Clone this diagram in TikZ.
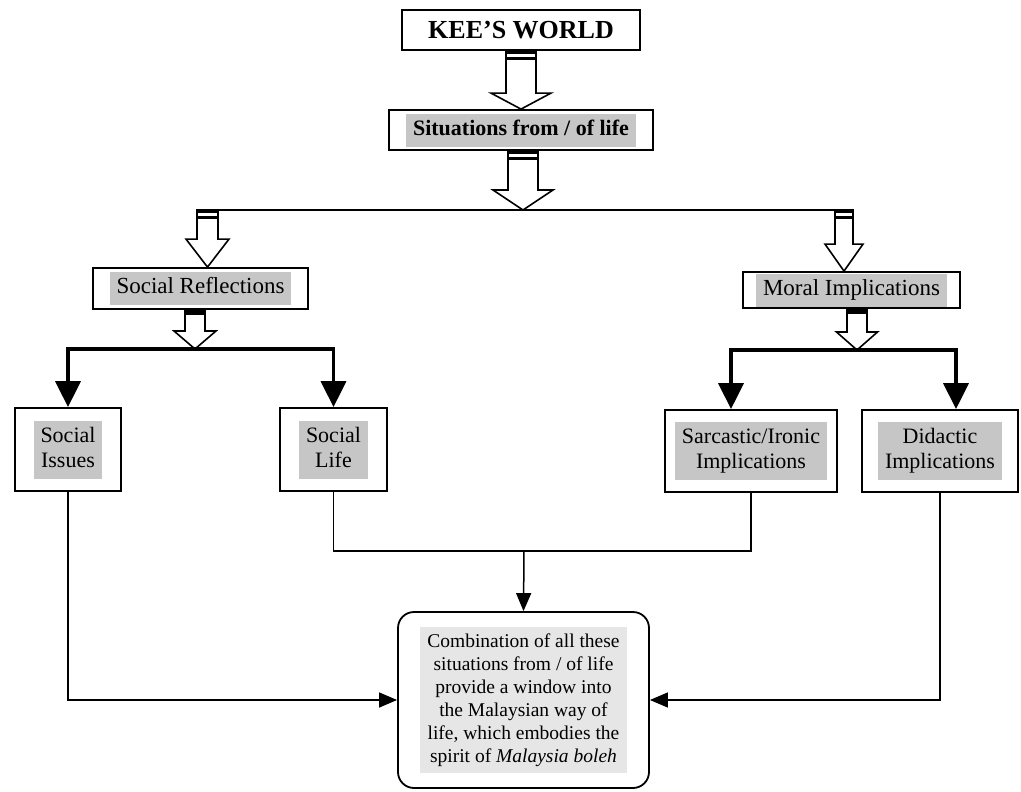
\documentclass[tikz,border=0pt]{standalone}
\usepackage{fontspec}
\setmainfont{Liberation Serif}
\usetikzlibrary{arrows.meta,calc}

\definecolor{hlgray}{RGB}{198,198,198}
\definecolor{hllight}{RGB}{230,230,230}

% gray highlight behind a label
\newcommand{\graytext}[2][hlgray]{{\setlength{\fboxsep}{4pt}\colorbox{#1}{\begin{tabular}{@{\hspace{3pt}}c@{\hspace{3pt}}}#2\end{tabular}}}}
% white block arrow: x from #2, top at #3, tip at #4, half shaft #5, half head #6, head length #7, band gap #1
\newcommand{\hollowarrow}[7][6]{%
  \coordinate(ha)at(#2|-#3);
  \coordinate(hb)at(#2|-#4);
  \draw[hollow]($(ha)+(-#5,0)$)--($(hb)+(-#5,-#7)$)--($(hb)+(-#6,-#7)$)--(hb)
    --($(hb)+(#6,-#7)$)--($(hb)+(#5,-#7)$)--($(ha)+(#5,0)$)--cycle;
  \draw[band]($(ha)+(-#5,1.5)$)--($(ha)+(#5,1.5)$);
  \draw[band]($(ha)+(-#5,1.5+#1)$)--($(ha)+(#5,1.5+#1)$);}

\begin{document}
\begin{tikzpicture}[x=1pt,y=-1pt,
    box/.style={draw=black,line width=1.8pt,fill=white,inner sep=0pt,align=center,font=\fontsize{22}{25}\selectfont},
    hollow/.style={draw=black,line width=1.6pt,fill=white},
    band/.style={line width=3pt},
    heavy/.style={line width=3.5pt,>={Triangle[length=26pt,width=25pt]}},
    feed/.style={line width=1.5pt,>={Triangle[length=18pt,width=15pt]}}]
                \useasboundingbox(0,0)rectangle(1021,792);
                \node[box,minimum width=238pt,minimum height=40pt,font=\bfseries\fontsize{26}{28}\selectfont](kee)at(521,30){KEE'S WORLD};
                \node[box,minimum width=264pt,minimum height=40pt,font=\bfseries\fontsize{22}{25}\selectfont](sit)at(521,130){\graytext{Situations from / of life}};
                \node[box,minimum width=215pt,minimum height=41pt,font=\fontsize{23}{25}\selectfont](refl)at(200.5,288.5){\graytext{Social Reflections}};
                \node[box,minimum width=217pt,minimum height=36pt,font=\fontsize{23}{25}\selectfont](moral)at(851.5,290){\graytext{Moral Implications}};
                \node[box,minimum width=106pt,minimum height=83pt](issues)at(68,449.5){\graytext{Social\\Issues}};
                \node[box,minimum width=107pt,minimum height=83pt](life)at(333.5,449.5){\graytext{Social\\Life}};
                \node[box,minimum width=172pt,minimum height=82pt](sarc)at(751,451){\graytext{Sarcastic/Ironic\\Implications}};
                \node[box,minimum width=156pt,minimum height=82pt](didac)at(940,451){\graytext{Didactic\\Implications}};
                \node[box,rounded corners=16pt,minimum width=251pt,minimum height=176pt,font=\fontsize{19.5}{23}\selectfont](comb)at(523.5,700){\graytext[hllight]{Combination of all these\\situations from / of life\\provide a window into\\the Malaysian way of\\life, which embodies the\\spirit of \textit{Malaysia boleh}}};

                \coordinate(split)at(523,210);
                \coordinate(splitl)at(197,210);
                \coordinate(splitr)at(853,210);
                \coordinate(lhead)at(207.5,210);
                \coordinate(rhead)at(844,210);
                \coordinate(lsplit)at(195,349);
                \coordinate(rsplit)at(857,350);
                \coordinate(rsplitl)at(731,350);
                \coordinate(rsplitr)at(956,350);
                \coordinate(join)at(524,551);

                \hollowarrow{kee.south}{kee.south}{sit.north}{15}{30}{16}
                \hollowarrow{split}{sit.south}{split}{15}{30}{20}
                \hollowarrow{lhead}{lhead}{refl.north}{10.5}{21.5}{28}
                \hollowarrow{rhead}{rhead}{moral.north}{9}{19}{27}
                \hollowarrow[2.5]{lsplit}{refl.south}{lsplit}{10}{21}{18}
                \hollowarrow[2.5]{rsplit}{moral.south}{rsplit}{10}{20.5}{18}
                \draw[line width=1.6pt](splitl)--(splitr);

                \draw[heavy,<->](issues.north)|-(lsplit)-|(life.north);
                \draw[heavy,<->](sarc.north-|rsplitl)--(rsplitl)--(rsplitr)--(didac.north-|rsplitr);

                \draw[line width=1.5pt](life.south)|-(join)-|(sarc.south);
                \draw[feed,->](join)--(comb.north);
                \draw[feed,->](issues.south)|-(comb.west);
                \draw[feed,->](didac.south)|-(comb.east);
            \end{tikzpicture}
\end{document}
